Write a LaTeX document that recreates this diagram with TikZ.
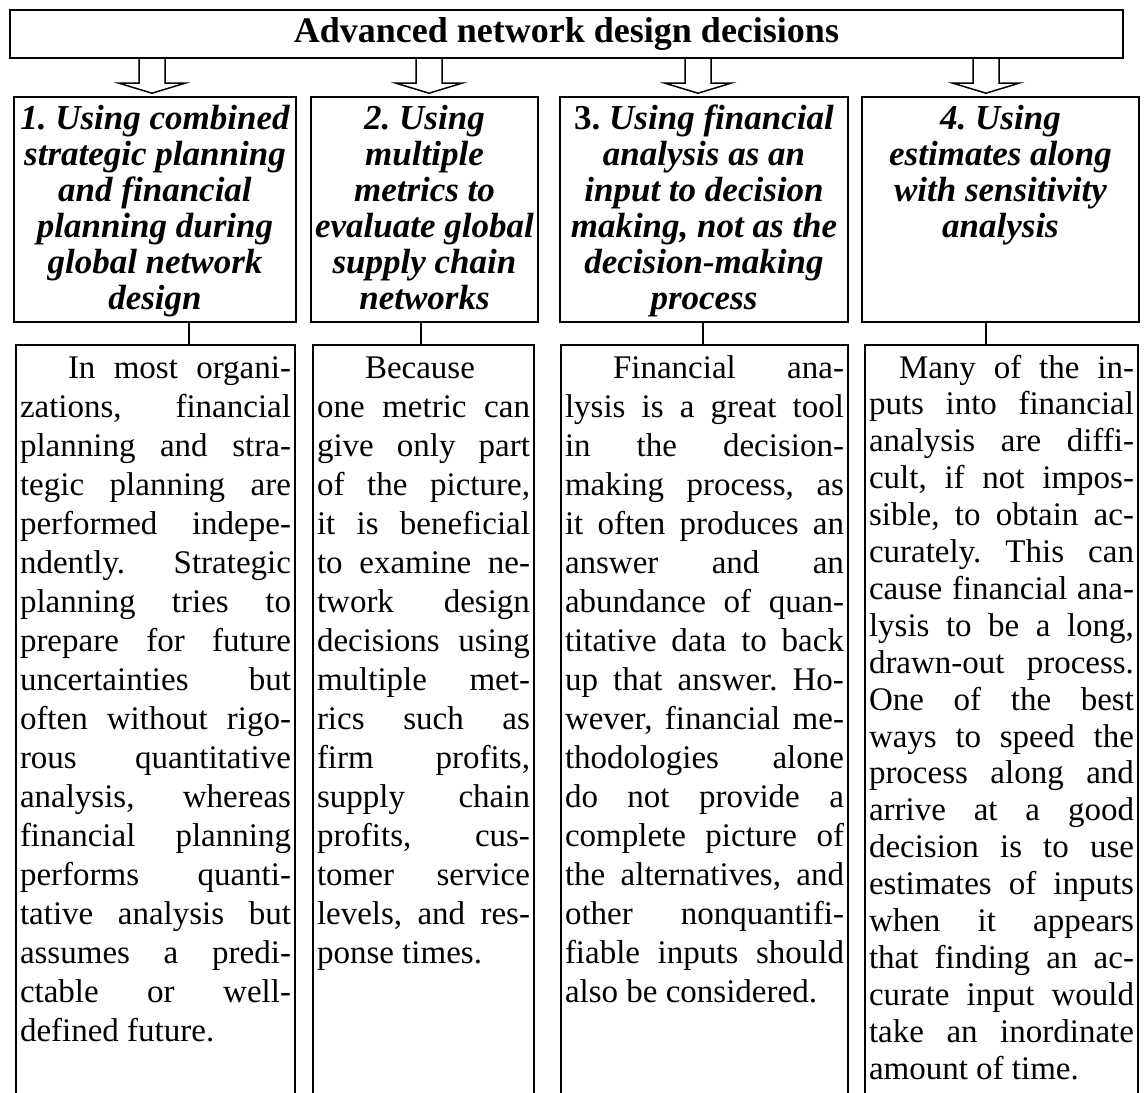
\documentclass[tikz,border=0pt]{standalone}
\usepackage{fontspec}
\setmainfont{Liberation Serif}
\tikzset{
  frame/.style={draw, line width=2pt},
  head/.style={frame, anchor=north west, align=justify, inner xsep=3pt, inner ysep=0pt,
    text height=32pt, text depth=193pt, font=\fontsize{35}{36}\selectfont\bfseries\itshape},
  body/.style={frame, anchor=north west, align=justify, inner xsep=4pt, inner ysep=0pt,
    text height=33pt, text depth=723pt, font=\fontsize{33}{39}\selectfont},
  link/.style={line width=1.5pt},
  hollow/.style={line width=1.5pt, line join=miter}
}
% one justified line of a text column, one centred line of a heading
\newcommand\jl[1]{\makebox[\hsize][s]{#1}}
\newcommand\hl[1]{\makebox[\hsize]{#1}}
\begin{document}
\frenchspacing
\begin{tikzpicture}[x=1pt, y=-1pt]
\path[use as bounding box, fill=white] (0,0) rectangle (1144,1093);
\clip (0,0) rectangle (1144,1093);

\node[frame, line width=2.4pt, minimum width=1113pt, minimum height=48pt, inner sep=0pt,
  font=\fontsize{36}{40}\selectfont\bfseries] (title) at (566.5,34) {Advanced network design decisions};

% headings
\node[head, text width=276pt] (h1) at (13,96) {\hl{1. Using combined}\\ \hl{strategic planning}\\
  \hl{and financial}\\ \hl{planning during}\\ \hl{global network}\\ \hl{design}};
\node[head, text width=221pt] (h2) at (310,96) {\hl{2. Using}\\ \hl{multiple}\\ \hl{metrics to}\\
  \hl{evaluate global}\\ \hl{supply chain}\\ \hl{networks}};
\node[head, text width=282pt] (h3) at (559,96) {\hl{{\upshape 3.} Using financial}\\ \hl{analysis as an}\\
  \hl{input to decision}\\ \hl{making, not as the}\\ \hl{decision-making}\\ \hl{process}};
\node[head, text width=271pt] (h4) at (861,96) {\hl{4. Using}\\ \hl{estimates along}\\
  \hl{with sensitivity}\\ \hl{analysis}};

% text columns, running off the bottom
\node[body, text width=271pt] (b1) at (15,344) {%
\jl{\hspace*{48pt}In most organi-}\\
\jl{zations, financial}\\
\jl{planning and stra-}\\
\jl{tegic planning are}\\
\jl{performed indepe-}\\
\jl{ndently. Strategic}\\
\jl{planning tries to}\\
\jl{prepare for future}\\
\jl{uncertainties but}\\
\jl{often without rigo-}\\
\jl{rous quantitative}\\
\jl{analysis, whereas}\\
\jl{financial planning}\\
\jl{performs quanti-}\\
\jl{tative analysis but}\\
\jl{assumes a predi-}\\
\jl{ctable or well-}\\
defined future.};
\node[body, text width=213pt] (b2) at (312,344) {%
\hspace*{48pt}Because\\
\jl{one metric can}\\
\jl{give only part}\\
\jl{of the picture,}\\
\jl{it is beneficial}\\
\jl{to examine ne-}\\
\jl{twork design}\\
\jl{decisions using}\\
\jl{multiple met-}\\
\jl{rics such as}\\
\jl{firm profits,}\\
\jl{supply chain}\\
\jl{profits, cus-}\\
\jl{tomer service}\\
\jl{levels, and res-}\\
ponse times.};
\node[body, text width=279pt] (b3) at (560,344) {%
\jl{\hspace*{48pt}Financial ana-}\\
\jl{lysis is a great tool}\\
\jl{in the decision-}\\
\jl{making process, as}\\
\jl{it often produces an}\\
\jl{answer and an}\\
\jl{abundance of quan-}\\
\jl{titative data to back}\\
\jl{up that answer. Ho-}\\
\jl{wever, financial me-}\\
\jl{thodologies alone}\\
\jl{do not provide a}\\
\jl{complete picture of}\\
\jl{the alternatives, and}\\
\jl{other nonquantifi-}\\
\jl{fiable inputs should}\\
also be considered.};
\node[body, text width=265pt, font=\fontsize{33}{36.9}\selectfont] (b4) at (864,344) {%
\jl{\hspace*{30pt}Many of the in-}\\
\jl{puts into financial}\\
\jl{analysis are diffi-}\\
\jl{cult, if not impos-}\\
\jl{sible, to obtain ac-}\\
\jl{curately. This can}\\
\jl{cause financial ana-}\\
\jl{lysis to be a long,}\\
\jl{drawn-out process.}\\
\jl{One of the best}\\
\jl{ways to speed the}\\
\jl{process along and}\\
\jl{arrive at a good}\\
\jl{decision is to use}\\
\jl{estimates of inputs}\\
\jl{when it appears}\\
\jl{that finding an ac-}\\
\jl{curate input would}\\
\jl{take an inordinate}\\
amount of time.};

% hollow arrows under the title
\foreach \x in {152,429,698,986}
  \draw[hollow] (\x-13,0 |- title.south) -- ++(0,24) -- ++(-20,0) -- ++(33,10)
    -- ++(33,-10) -- ++(-20,0) -- ++(0,-24);

% heading to text
\foreach \i/\x in {1/189,2/421,3/703,4/986}
  \draw[link] (\x,0 |- h\i.south) -- (\x,0 |- b\i.north);
\end{tikzpicture}
\end{document}
